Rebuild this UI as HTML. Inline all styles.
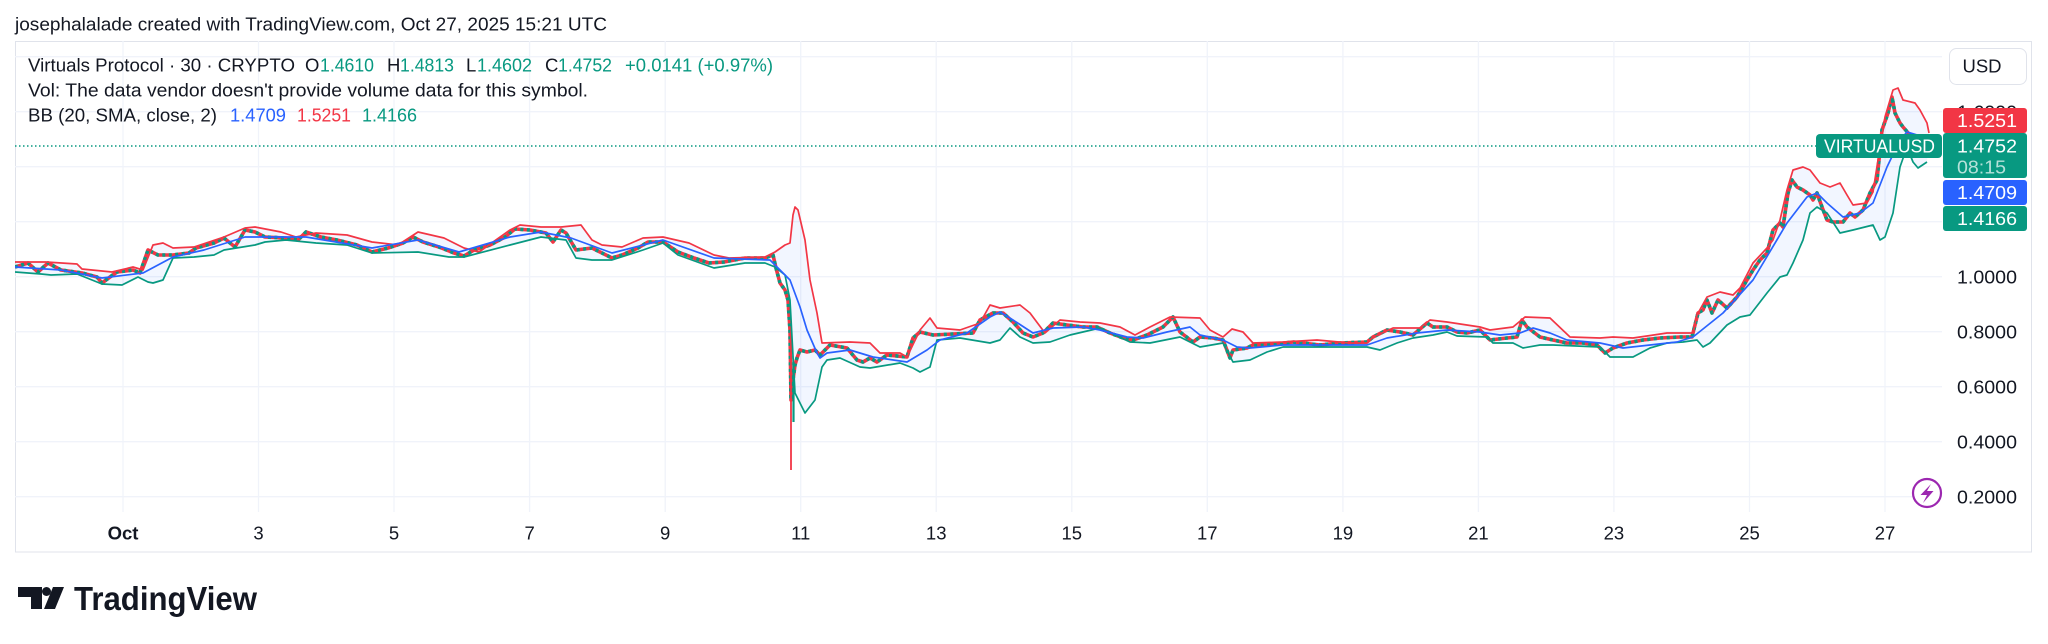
<!DOCTYPE html>
<html><head><meta charset="utf-8">
<style>
html,body{margin:0;padding:0;background:#fff;}
svg{display:block;font-family:"Liberation Sans",Arial,sans-serif;}
</style></head>
<body>
<svg xmlns="http://www.w3.org/2000/svg" width="2048" height="644" viewBox="0 0 2048 644">
<rect x="0" y="0" width="2048" height="644" fill="#fff"/>
<defs><clipPath id="pc"><rect x="15" y="41" width="1927" height="471"/></clipPath></defs>
<!-- frame -->
<rect x="15.5" y="41.5" width="2016" height="510.5" fill="none" stroke="#e0e3eb" stroke-width="1"/>
<!-- grid -->
<g stroke="#f0f3fa" stroke-width="1.3">
<line x1="15" x2="1942" y1="56.7" y2="56.7"/>
<line x1="15" x2="1942" y1="111.7" y2="111.7"/>
<line x1="15" x2="1942" y1="166.7" y2="166.7"/>
<line x1="15" x2="1942" y1="221.7" y2="221.7"/>
<line x1="15" x2="1942" y1="276.7" y2="276.7"/>
<line x1="15" x2="1942" y1="331.7" y2="331.7"/>
<line x1="15" x2="1942" y1="386.7" y2="386.7"/>
<line x1="15" x2="1942" y1="441.7" y2="441.7"/>
<line x1="15" x2="1942" y1="496.7" y2="496.7"/>
<line y1="41" y2="512" x1="123" x2="123"/>
<line y1="41" y2="512" x1="258.5" x2="258.5"/>
<line y1="41" y2="512" x1="394" x2="394"/>
<line y1="41" y2="512" x1="529.6" x2="529.6"/>
<line y1="41" y2="512" x1="665.2" x2="665.2"/>
<line y1="41" y2="512" x1="800.7" x2="800.7"/>
<line y1="41" y2="512" x1="936.2" x2="936.2"/>
<line y1="41" y2="512" x1="1071.8" x2="1071.8"/>
<line y1="41" y2="512" x1="1207.3" x2="1207.3"/>
<line y1="41" y2="512" x1="1342.9" x2="1342.9"/>
<line y1="41" y2="512" x1="1478.4" x2="1478.4"/>
<line y1="41" y2="512" x1="1613.9" x2="1613.9"/>
<line y1="41" y2="512" x1="1749.5" x2="1749.5"/>
<line y1="41" y2="512" x1="1885" x2="1885"/>
</g>

<g clip-path="url(#pc)" fill="none" stroke-linejoin="round">
<!-- band fill -->
<path fill="#2962ff" fill-opacity="0.06" stroke="none" d="M15,262 46,262 77,264 82,269 112,272 133,267 143,270 153,245 163,243 173,248 194,247 224,237 245,228 255,227 281,232 296,237 316,233 347,235 372,242 398,245 418,232 444,238 464,248 479,252 510,230 520,225 541,227 561,227 581,225 592,240 602,245 622,247 643,238 663,237 689,243 714,255 729,258 765,257 775,252 785,245 790,243 793,215 795,207 798,210 805,240 810,280 817,313 822,343 850,342 870,343 880,353 900,353 907,357 920,330 930,318 937,328 960,330 980,323 990,305 1000,308 1020,305 1030,313 1045,333 1060,320 1080,322 1100,323 1120,327 1135,335 1150,327 1170,317 1200,318 1210,330 1223,337 1232,329 1243,332 1253,343 1283,342 1317,340 1350,343 1367,343 1373,337 1393,328 1420,328 1430,320 1447,322 1480,327 1490,330 1513,327 1525,317 1550,318 1570,337 1600,338 1613,337 1633,338 1667,333 1693,333 1697,315 1707,297 1720,292 1733,295 1740,288 1753,263 1767,248 1773,240 1780,220 1787,190 1793,170 1803,167 1810,170 1820,183 1830,187 1840,183 1847,195 1853,205 1867,203 1873,192 1878,160 1885,117 1893,90 1898,88 1903,100 1915,103 1920,110 1927,123 1929,133 L1927,162 1918,168 1913,162 1907,147 1900,167 1893,213 1885,237 1880,240 1873,225 1853,230 1840,233 1827,213 1817,207 1810,213 1803,240 1793,263 1787,275 1780,277 1767,293 1750,315 1740,317 1727,325 1710,343 1703,347 1697,340 1683,342 1667,343 1650,348 1633,357 1610,357 1600,347 1553,345 1540,345 1523,348 1513,343 1493,343 1487,337 1457,336 1447,332 1433,335 1413,338 1397,343 1380,350 1367,347 1317,347 1283,347 1267,352 1250,360 1233,362 1223,343 1200,347 1180,337 1150,343 1130,342 1100,328 1070,335 1050,342 1033,343 1020,337 1010,328 1000,340 990,343 960,338 937,340 930,367 920,372 913,368 900,363 870,368 860,367 840,358 827,360 822,367 815,400 805,413 795,393 790,300 785,275 775,267 765,263 745,263 714,268 678,255 663,243 643,250 612,260 592,260 576,258 566,240 541,237 510,245 464,257 449,257 418,252 372,253 347,245 316,243 286,240 265,242 255,245 224,250 214,255 194,257 173,258 163,280 153,283 148,282 138,277 122,285 102,284 77,274 51,275 41,274 15,272 Z"/>

<!-- candles (approximated) -->
<polyline stroke="#f23645" stroke-width="3.6" points="15,267 28,263 38,272 48,263 61,270 82,273 97,277 102,283 110,277 117,272 133,270 140,273 148,250 158,255 173,255 189,253 196,248 214,243 224,238 235,247 245,230 255,232 265,237 286,238 298,240 306,232 321,237 337,240 357,245 372,252 388,248 403,243 413,237 423,242 439,247 454,253 464,256 474,250 490,245 505,237 515,229 530,230 546,233 553,242 561,230 566,233 576,250 592,248 612,258 622,255 638,248 648,242 663,242 678,252 694,258 709,263 724,262 745,258 765,258 773,255 776,268 780,283 785,290 788,300 790,330 791,400 793,380 795,365 797,358 800,350 807,352 815,350 820,355 830,345 847,348 857,360 863,362 870,358 877,362 887,355 907,357 913,338 920,332 933,335 953,334 973,333 980,320 993,313 1003,313 1013,322 1023,333 1033,337 1043,333 1053,323 1067,325 1083,327 1097,327 1110,333 1123,338 1133,340 1147,335 1163,327 1173,317 1180,332 1193,342 1200,337 1213,338 1223,340 1230,358 1233,350 1247,348 1253,345 1267,345 1293,342 1320,345 1340,343 1367,342 1373,337 1387,330 1400,332 1413,335 1427,323 1433,327 1447,327 1457,332 1467,333 1480,330 1490,340 1507,338 1517,337 1522,320 1527,327 1540,337 1553,340 1567,343 1583,343 1597,345 1605,353 1613,348 1627,343 1643,340 1660,338 1680,337 1692,337 1698,313 1703,310 1707,300 1712,313 1718,300 1727,308 1737,297 1747,280 1753,270 1760,260 1767,253 1773,230 1780,223 1783,227 1788,193 1792,180 1797,187 1803,190 1810,195 1813,200 1817,193 1822,207 1827,220 1833,222 1843,222 1850,213 1855,217 1863,210 1870,193 1877,180 1882,130 1888,113 1892,97 1895,113 1900,123 1903,127 1910,135 1915,145 1920,148 1927,146"/>
<polyline stroke="#089981" stroke-width="3.6" stroke-dasharray="3,3.5" points="15,267 28,263 38,272 48,263 61,270 82,273 97,277 102,283 110,277 117,272 133,270 140,273 148,250 158,255 173,255 189,253 196,248 214,243 224,238 235,247 245,230 255,232 265,237 286,238 298,240 306,232 321,237 337,240 357,245 372,252 388,248 403,243 413,237 423,242 439,247 454,253 464,256 474,250 490,245 505,237 515,229 530,230 546,233 553,242 561,230 566,233 576,250 592,248 612,258 622,255 638,248 648,242 663,242 678,252 694,258 709,263 724,262 745,258 765,258 773,255 776,268 780,283 785,290 788,300 790,330 791,400 793,380 795,365 797,358 800,350 807,352 815,350 820,355 830,345 847,348 857,360 863,362 870,358 877,362 887,355 907,357 913,338 920,332 933,335 953,334 973,333 980,320 993,313 1003,313 1013,322 1023,333 1033,337 1043,333 1053,323 1067,325 1083,327 1097,327 1110,333 1123,338 1133,340 1147,335 1163,327 1173,317 1180,332 1193,342 1200,337 1213,338 1223,340 1230,358 1233,350 1247,348 1253,345 1267,345 1293,342 1320,345 1340,343 1367,342 1373,337 1387,330 1400,332 1413,335 1427,323 1433,327 1447,327 1457,332 1467,333 1480,330 1490,340 1507,338 1517,337 1522,320 1527,327 1540,337 1553,340 1567,343 1583,343 1597,345 1605,353 1613,348 1627,343 1643,340 1660,338 1680,337 1692,337 1698,313 1703,310 1707,300 1712,313 1718,300 1727,308 1737,297 1747,280 1753,270 1760,260 1767,253 1773,230 1780,223 1783,227 1788,193 1792,180 1797,187 1803,190 1810,195 1813,200 1817,193 1822,207 1827,220 1833,222 1843,222 1850,213 1855,217 1863,210 1870,193 1877,180 1882,130 1888,113 1892,97 1895,113 1900,123 1903,127 1910,135 1915,145 1920,148 1927,146"/>
<!-- crash wick and candle -->
<line x1="791" y1="328" x2="791" y2="470" stroke="#f23645" stroke-width="1.8"/>
<line x1="793.5" y1="362" x2="793.5" y2="422" stroke="#089981" stroke-width="2.2"/>

<!-- BB lines -->
<polyline stroke="#f23645" stroke-width="1.7" points="15,262 46,262 77,264 82,269 112,272 133,267 143,270 153,245 163,243 173,248 194,247 224,237 245,228 255,227 281,232 296,237 316,233 347,235 372,242 398,245 418,232 444,238 464,248 479,252 510,230 520,225 541,227 561,227 581,225 592,240 602,245 622,247 643,238 663,237 689,243 714,255 729,258 765,257 775,252 785,245 790,243 793,215 795,207 798,210 805,240 810,280 817,313 822,343 850,342 870,343 880,353 900,353 907,357 920,330 930,318 937,328 960,330 980,323 990,305 1000,308 1020,305 1030,313 1045,333 1060,320 1080,322 1100,323 1120,327 1135,335 1150,327 1170,317 1200,318 1210,330 1223,337 1232,329 1243,332 1253,343 1283,342 1317,340 1350,343 1367,343 1373,337 1393,328 1420,328 1430,320 1447,322 1480,327 1490,330 1513,327 1525,317 1550,318 1570,337 1600,338 1613,337 1633,338 1667,333 1693,333 1697,315 1707,297 1720,292 1733,295 1740,288 1753,263 1767,248 1773,240 1780,220 1787,190 1793,170 1803,167 1810,170 1820,183 1830,187 1840,183 1847,195 1853,205 1867,203 1873,192 1878,160 1885,117 1893,90 1898,88 1903,100 1915,103 1920,110 1927,123 1929,133"/>
<polyline stroke="#089981" stroke-width="1.7" points="15,272 41,274 51,275 77,274 102,284 122,285 138,277 148,282 153,283 163,280 173,258 194,257 214,255 224,250 255,245 265,242 286,240 316,243 347,245 372,253 418,252 449,257 464,257 510,245 541,237 566,240 576,258 592,260 612,260 643,250 663,243 678,255 714,268 745,263 765,263 775,267 785,275 790,300 795,393 805,413 815,400 822,367 827,360 840,358 860,367 870,368 900,363 913,368 920,372 930,367 937,340 960,338 990,343 1000,340 1010,328 1020,337 1033,343 1050,342 1070,335 1100,328 1130,342 1150,343 1180,337 1200,347 1223,343 1233,362 1250,360 1267,352 1283,347 1317,347 1367,347 1380,350 1397,343 1413,338 1433,335 1447,332 1457,336 1487,337 1493,343 1513,343 1523,348 1540,345 1553,345 1600,347 1610,357 1633,357 1650,348 1667,343 1683,342 1697,340 1703,347 1710,343 1727,325 1740,317 1750,315 1767,293 1780,277 1787,275 1793,263 1803,240 1810,213 1817,207 1827,213 1840,233 1853,230 1873,225 1880,240 1885,237 1893,213 1900,167 1907,147 1913,162 1918,168 1927,162"/>
<polyline stroke="#2962ff" stroke-width="1.7" points="15,267 61,270 102,278 143,273 173,257 204,250 245,237 306,237 372,248 418,240 459,252 510,237 541,232 571,238 612,253 663,240 714,258 770,260 790,280 800,307 807,330 817,353 820,358 827,353 850,350 873,357 907,362 927,350 940,340 967,333 990,317 1000,312 1013,320 1033,333 1053,328 1083,327 1100,330 1127,337 1143,338 1167,332 1190,327 1200,335 1223,340 1237,347 1250,348 1283,345 1367,345 1387,338 1417,333 1447,330 1480,332 1500,335 1520,333 1533,328 1550,333 1567,340 1600,343 1623,348 1650,345 1677,342 1693,337 1723,313 1753,280 1787,223 1807,197 1817,193 1827,203 1843,217 1860,213 1873,203 1887,167 1900,140 1907,132 1917,135 1927,146"/>
</g>

<line x1="15" y1="146" x2="1816" y2="146" stroke="#089981" stroke-width="1.5" stroke-dasharray="1.5,2.5"/>

<!-- header -->
<text x="15" y="30.5" font-size="18.5" fill="#131722" textLength="592" lengthAdjust="spacingAndGlyphs">josephalalade created with TradingView.com, Oct 27, 2025 15:21 UTC</text>

<!-- legend -->
<g font-size="18.5">
<text x="28" y="71.5" fill="#131722" textLength="267" lengthAdjust="spacingAndGlyphs">Virtuals Protocol · 30 · CRYPTO</text>
<text x="305" y="71.5" fill="#131722">O</text><text x="320" y="71.5" fill="#089981" textLength="54" lengthAdjust="spacingAndGlyphs">1.4610</text>
<text x="387" y="71.5" fill="#131722">H</text><text x="400" y="71.5" fill="#089981" textLength="54" lengthAdjust="spacingAndGlyphs">1.4813</text>
<text x="466" y="71.5" fill="#131722">L</text><text x="477" y="71.5" fill="#089981" textLength="55" lengthAdjust="spacingAndGlyphs">1.4602</text>
<text x="545" y="71.5" fill="#131722">C</text><text x="558" y="71.5" fill="#089981" textLength="54" lengthAdjust="spacingAndGlyphs">1.4752</text>
<text x="625" y="71.5" fill="#089981" textLength="148" lengthAdjust="spacingAndGlyphs">+0.0141 (+0.97%)</text>
<text x="28" y="96.5" fill="#131722" textLength="560" lengthAdjust="spacingAndGlyphs">Vol: The data vendor doesn't provide volume data for this symbol.</text>
<text x="28" y="121.5" fill="#131722" textLength="189" lengthAdjust="spacingAndGlyphs">BB (20, SMA, close, 2)</text>
<text x="230" y="121.5" fill="#2962ff" textLength="56" lengthAdjust="spacingAndGlyphs">1.4709</text>
<text x="297" y="121.5" fill="#f23645" textLength="54" lengthAdjust="spacingAndGlyphs">1.5251</text>
<text x="362" y="121.5" fill="#089981" textLength="55" lengthAdjust="spacingAndGlyphs">1.4166</text>
</g>

<!-- y axis labels -->
<g font-size="18.5" fill="#131722" text-anchor="end">
<text x="2017" y="118.3" textLength="60" lengthAdjust="spacingAndGlyphs">1.6000</text>
<text x="2017" y="283.3" textLength="60" lengthAdjust="spacingAndGlyphs">1.0000</text>
<text x="2017" y="338.3" textLength="60" lengthAdjust="spacingAndGlyphs">0.8000</text>
<text x="2017" y="393.3" textLength="60" lengthAdjust="spacingAndGlyphs">0.6000</text>
<text x="2017" y="448.3" textLength="60" lengthAdjust="spacingAndGlyphs">0.4000</text>
<text x="2017" y="503.3" textLength="60" lengthAdjust="spacingAndGlyphs">0.2000</text>
</g>

<!-- USD button -->
<rect x="1949.5" y="48.5" width="77" height="36" rx="7" fill="#fff" stroke="#e0e3eb"/>
<text x="1982" y="72.6" font-size="18.5" fill="#131722" text-anchor="middle">USD</text>

<!-- price labels -->
<rect x="1943" y="108" width="84" height="25" rx="3" fill="#f23645"/>
<rect x="1943" y="133" width="84" height="45" rx="3" fill="#089981"/>
<rect x="1943" y="180" width="84" height="25" rx="3" fill="#2962ff"/>
<rect x="1943" y="206" width="84" height="25" rx="3" fill="#089981"/>
<g font-size="18.5" fill="#fff" text-anchor="end">
<text x="2017" y="127" textLength="60" lengthAdjust="spacingAndGlyphs">1.5251</text>
<text x="2017" y="152.6" textLength="60" lengthAdjust="spacingAndGlyphs">1.4752</text>
<text x="2017" y="199" textLength="60" lengthAdjust="spacingAndGlyphs">1.4709</text>
<text x="2017" y="225" textLength="60" lengthAdjust="spacingAndGlyphs">1.4166</text>
</g>
<text x="1957" y="173.6" font-size="18.5" fill="#fff" fill-opacity="0.7" textLength="49" lengthAdjust="spacingAndGlyphs">08:15</text>

<!-- symbol label -->
<rect x="1816" y="134" width="126" height="24" rx="4" fill="#089981"/>
<text x="1879.5" y="152.6" font-size="18.5" fill="#fff" text-anchor="middle" textLength="111" lengthAdjust="spacingAndGlyphs">VIRTUALUSD</text>

<!-- lightning icon -->
<circle cx="1927" cy="493" r="14" fill="#fff" stroke="#9c27b0" stroke-width="2.2"/>
<path d="M1931,484 L1920.5,495 L1927,495 L1923,503 L1933.5,491 L1927,491 Z" fill="#9c27b0"/>

<!-- x axis labels -->
<g font-size="18.5" fill="#131722" text-anchor="middle">
<text x="123" y="539.6" font-weight="bold">Oct</text>
<text x="258.5" y="539.6">3</text>
<text x="394" y="539.6">5</text>
<text x="529.6" y="539.6">7</text>
<text x="665.2" y="539.6">9</text>
<text x="800.7" y="539.6">11</text>
<text x="936.2" y="539.6">13</text>
<text x="1071.8" y="539.6">15</text>
<text x="1207.3" y="539.6">17</text>
<text x="1342.9" y="539.6">19</text>
<text x="1478.4" y="539.6">21</text>
<text x="1613.9" y="539.6">23</text>
<text x="1749.5" y="539.6">25</text>
<text x="1885" y="539.6">27</text>
</g>

<!-- footer logo -->
<g fill="#131722">
<path d="M18,587 H42 V609 H31 V597 H18 Z"/>
<circle cx="46.5" cy="591.5" r="4.5"/>
<path d="M53,587 H64 L55,609 H44 Z"/>
</g>
<text x="74" y="610" font-size="33" font-weight="bold" fill="#131722" textLength="183" lengthAdjust="spacingAndGlyphs">TradingView</text>
</svg>
</body></html>
